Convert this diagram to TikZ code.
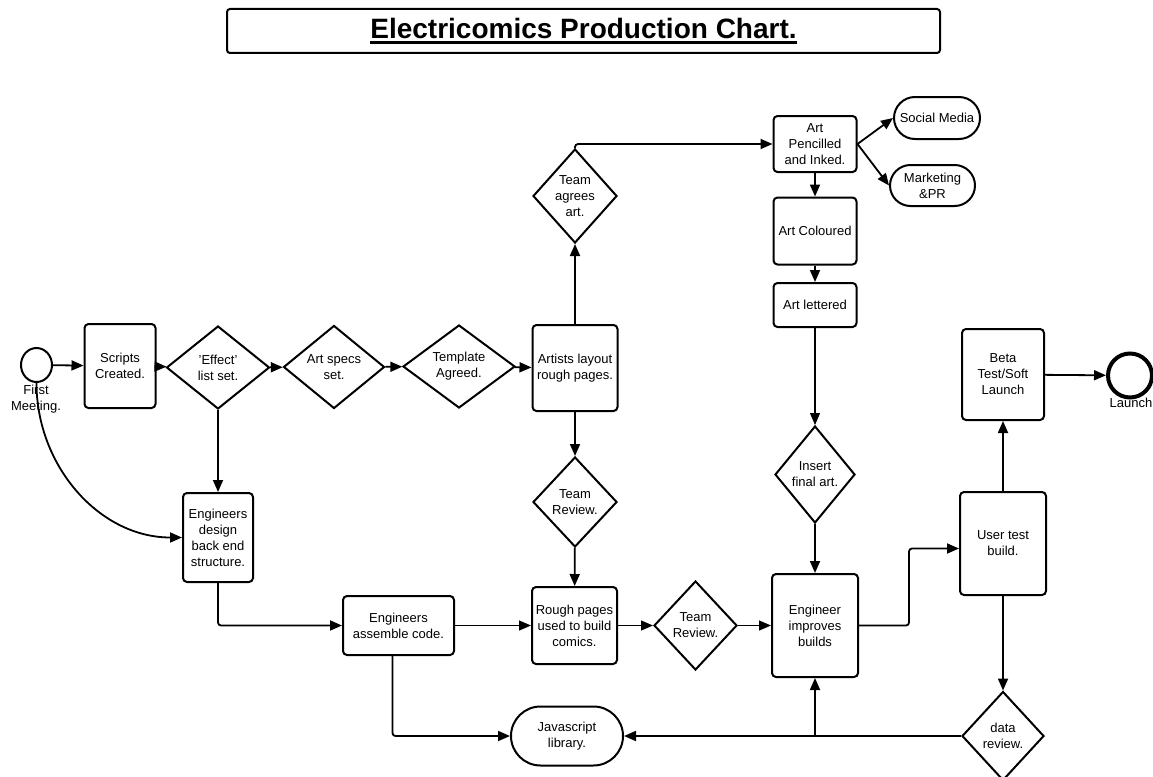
\documentclass[tikz,border=0pt]{standalone}
\usepackage{fontspec}
\setmainfont{Liberation Sans}
\usetikzlibrary{positioning, shapes.geometric, shapes.misc, arrows.meta}
\newsavebox{\titlebox}
\newcommand{\thickul}[1]{\sbox{\titlebox}{#1}\rlap{\usebox{\titlebox}}\rule[-5pt]{\wd\titlebox}{2.6pt}}

\begin{document}
\begin{tikzpicture}[
  x=1pt, y=-1pt,
  every node/.style={font=\fontsize{13}{16}\selectfont},
  box/.style={draw, rounded corners=4pt, line width=2pt, align=center, inner sep=2pt},
  dia/.style={draw, diamond, line width=2pt, align=center, inner sep=-3pt},
  pill/.style={draw, rounded rectangle, line width=2pt, align=center, inner sep=2pt},
  arr/.style={-{Triangle[length=12pt, width=10pt]}, line width=1.8pt},
  thinarr/.style={-{Triangle[length=12pt, width=10pt]}, line width=1.1pt},
  lbl/.style={inner sep=0pt, align=center}
]
\useasboundingbox (0,0) rectangle (1153,776);

% Title
\node[box, rounded corners=3pt, minimum width=713, minimum height=44] (title) at (583.5, 31)
  {\fontsize{28}{30}\selectfont\bfseries\thickul{Electricomics Production Chart.}};

% Start row
\node[draw, ellipse, line width=2pt, minimum width=31, minimum height=34, inner sep=0pt] (first) at (36.5, 365) {};
\node[lbl] (firstlbl) at (36, 399) {First\\Meeting.};
\node[box, minimum width=71, minimum height=84] (scripts) at (120, 366) {Scripts\\Created.};
\node[dia, aspect=1.24, minimum width=103, minimum height=83] (effect) at (218, 367.5) {'Effect'\\list set.};
\node[dia, aspect=1.22, minimum width=101, minimum height=83] (specs) at (334, 367) {Art specs\\set.};
\node[dia, aspect=1.35, minimum width=112, minimum height=83] (tmpl) at (459, 366.5) {Template\\Agreed.};
\node[box, minimum width=85, minimum height=86] (layout) at (575, 368) {Artists layout\\rough pages.};

% Art column
\node[dia, aspect=0.89, minimum width=84, minimum height=94] (agree) at (575, 196) {Team\\agrees\\art.};
\node[box, minimum width=83, minimum height=56] (pencil) at (815, 144) {Art\\Pencilled\\and Inked.};
\node[pill, minimum width=90, minimum height=42] (social) at (937, 118) {Social Media};
\node[pill, minimum width=89, minimum height=41] (market) at (932.5, 185.5) {Marketing\\\&PR};
\node[box, minimum width=83, minimum height=67] (colour) at (815, 231) {Art Coloured};
\node[box, minimum width=83, minimum height=44] (letter) at (815, 305) {Art lettered};
\node[dia, aspect=0.82, minimum width=80, minimum height=97] (insert) at (815, 474.5) {Insert\\final art.};

% Engineering rows
\node[box, minimum width=70, minimum height=89] (design) at (218, 537.5) {Engineers\\design\\back end\\structure.};
\node[dia, aspect=0.93, minimum width=84, minimum height=90] (review) at (575, 502) {Team\\Review.};
\node[box, minimum width=111, minimum height=59] (assemble) at (398.5, 625.5) {Engineers\\assemble code.};
\node[box, minimum width=85, minimum height=77] (rough) at (574.5, 625.5) {Rough pages\\used to build\\comics.};
\node[dia, aspect=0.93, minimum width=83, minimum height=89] (review2) at (695.5, 625.5) {Team\\Review.};
\node[box, minimum width=86, minimum height=103] (improve) at (815, 625.5) {Engineer\\improves\\builds};
\node[pill, minimum width=116, minimum height=59] (jslib) at (567, 736) {Javascript\\library.};

% Launch column
\node[box, minimum width=86, minimum height=103] (usertest) at (1003, 543.5) {User test\\build.};
\node[dia, aspect=0.93, minimum width=82, minimum height=89] (datarev) at (1003, 736) {data\\review.};
\node[box, minimum width=82, minimum height=91] (beta) at (1003, 374.5) {Beta\\Test/Soft\\Launch};
\node[draw, circle, line width=4pt, minimum size=44, inner sep=0pt] (launch) at (1130, 375.5) {};
\node[lbl] (launchlbl) at (1131, 403) {Launch};

% Main flow
\draw[arr] (first) -- (scripts);
\draw[arr] (scripts) -- (effect);
\draw[arr] (effect) -- (specs);
\draw[arr] (specs) -- (tmpl);
\draw[arr] (tmpl) -- (layout);
\draw[arr] (layout) -- (agree);
\draw[arr, rounded corners=3pt] (agree.north) |- (pencil.west);
\draw[arr] (pencil.east) -- (social.west);
\draw[arr] (pencil.east) -- (market.west);
\draw[arr] (pencil) -- (colour);
\draw[arr] (colour) -- (letter);
\draw[thinarr] (letter) -- (insert);
\draw[arr] (insert) -- (improve);

% Review loop
\draw[arr] (layout) -- (review);
\draw[arr] (review) -- (rough);
\draw[thinarr] (assemble) -- (rough);
\draw[thinarr] (rough) -- (review2);
\draw[thinarr] (review2) -- (improve);

% Engineering
\draw[arr] (first.south) to[out=-90, in=180] (design.west);
\draw[arr] (effect) -- (design);
\draw[arr, rounded corners=3pt] (design.south) |- (assemble.west);
\draw[arr, rounded corners=3pt] ([xshift=-6pt]assemble.south) |- (jslib.west);
\draw[arr, rounded corners=3pt] (improve.east) -- ++(50,0) |- ([yshift=-5pt]usertest.west);
\draw[arr] (usertest) -- (beta);
\draw[arr] (beta) -- (launch);
\draw[arr] (usertest) -- (datarev);
\draw[arr] (datarev.west) -- (jslib.east);
\draw[arr] (improve.south |- datarev.west) -- (improve.south);

\end{tikzpicture}
\end{document}
